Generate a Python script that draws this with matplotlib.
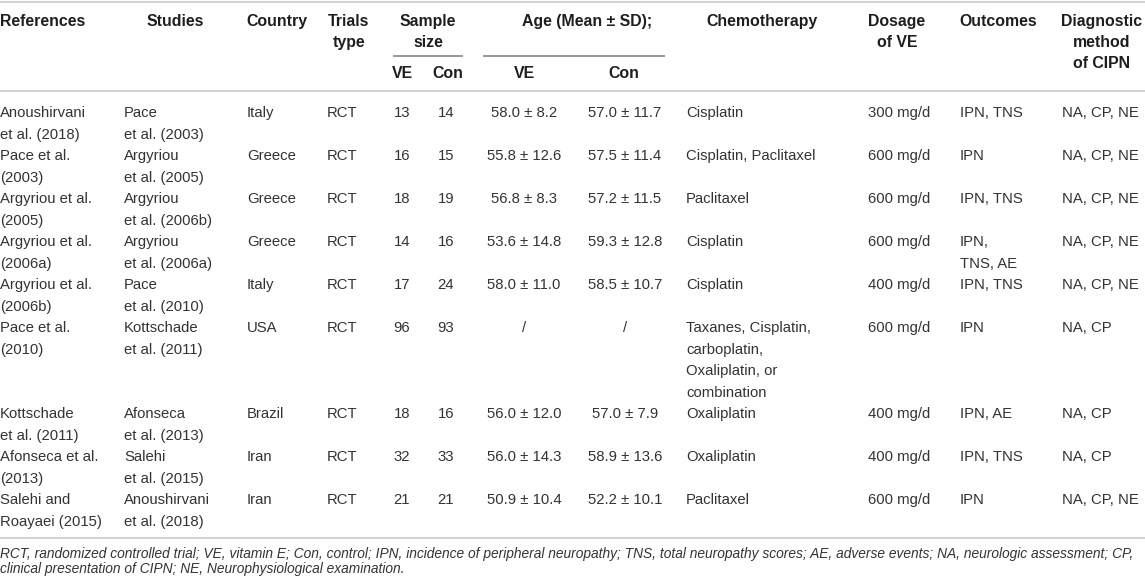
import matplotlib
matplotlib.use("Agg")
import matplotlib.pyplot as plt

plt.rcParams['font.family'] = ['Liberation Sans', 'DejaVu Sans']

# table contents, one list per column
references = ["Anoushirvani\net al. (2018)", "Pace et al.\n(2003)", "Argyriou et al.\n(2005)",
              "Argyriou et al.\n(2006a)", "Argyriou et al.\n(2006b)", "Pace et al.\n(2010)",
              "Kottschade\net al. (2011)", "Afonseca et al.\n(2013)", "Salehi and\nRoayaei (2015)"]
studies = ["Pace\net al. (2003)", "Argyriou\net al. (2005)", "Argyriou\net al. (2006b)",
           "Argyriou\net al. (2006a)", "Pace\net al. (2010)", "Kottschade\net al. (2011)",
           "Afonseca\net al. (2013)", "Salehi\net al. (2015)", "Anoushirvani\net al. (2018)"]
country = ["Italy", "Greece", "Greece", "Greece", "Italy", "USA", "Brazil", "Iran", "Iran"]
trials = ["RCT"] * 9
n_ve = ["13", "16", "18", "14", "17", "96", "18", "32", "21"]
n_con = ["14", "15", "19", "16", "24", "93", "16", "33", "21"]
age_ve = ["58.0 ± 8.2", "55.8 ± 12.6", "56.8 ± 8.3", "53.6 ± 14.8", "58.0 ± 11.0", "/",
          "56.0 ± 12.0", "56.0 ± 14.3", "50.9 ± 10.4"]
age_con = ["57.0 ± 11.7", "57.5 ± 11.4", "57.2 ± 11.5", "59.3 ± 12.8", "58.5 ± 10.7", "/",
           "57.0 ± 7.9", "58.9 ± 13.6", "52.2 ± 10.1"]
chemo = ["Cisplatin", "Cisplatin, Paclitaxel", "Paclitaxel", "Cisplatin", "Cisplatin",
         "Taxanes, Cisplatin,\ncarboplatin,\nOxaliplatin, or\ncombination",
         "Oxaliplatin", "Oxaliplatin", "Paclitaxel"]
dosage = ["300 mg/d", "600 mg/d", "600 mg/d", "600 mg/d", "400 mg/d", "600 mg/d",
          "400 mg/d", "400 mg/d", "600 mg/d"]
outcomes = ["IPN, TNS", "IPN", "IPN, TNS", "IPN,\nTNS, AE", "IPN, TNS", "IPN",
            "IPN, AE", "IPN, TNS", "IPN"]
diagnostic = ["NA, CP, NE", "NA, CP, NE", "NA, CP, NE", "NA, CP, NE", "NA, CP, NE",
              "NA, CP", "NA, CP", "NA, CP", "NA, CP, NE"]

footnote = ["RCT, randomized controlled trial; VE, vitamin E; Con, control; IPN, incidence of peripheral "
            "neuropathy; TNS, total neuropathy scores; AE, adverse events; NA, neurologic assessment; CP,",
            "clinical presentation of CIPN; NE, Neurophysiological examination."]

columns = [references, studies, country, trials, n_ve, n_con, age_ve, age_con,
           chemo, dosage, outcomes, diagnostic]
# (x, ha) of each body column, pixels
col_pos = [(0, 'left'), (124, 'left'), (247, 'left'), (327, 'left'), (402, 'center'),
           (446, 'center'), (524, 'center'), (625, 'center'), (686, 'left'),
           (930, 'right'), (960, 'left'), (1062, 'left')]

fig = plt.figure(figsize=(11.45, 5.83), dpi=100)
ax = fig.add_axes([0, 0, 1, 1])
ax.set_xlim(0, 1145)
ax.set_ylim(583, 0)
ax.axis('off')

body_c = '#333333'
head_c = '#1e1e1e'
rule_c = '#d2d2d2'
fs_body = 10.7
fs_head = 11.4
pitch = 21.5
off = 5.3  # line centre -> baseline

# header
def head(x, lines, ha='center', y0=21):
    for i, s in enumerate(lines):
        ax.text(x, y0 + i * 21 + off, s, ha=ha, va='baseline', fontsize=fs_head,
                fontweight='bold', color=head_c)

head(0, ["References"], ha='left')
head(175, ["Studies"])
head(277, ["Country"])
head(349, ["Trials", "type"])
head(428, ["Sample", "size"])
head(402, ["VE"], y0=73)
head(448, ["Con"], y0=73)
head(587, ["Age (Mean ± SD);"])
head(524, ["VE"], y0=73)
head(624, ["Con"], y0=73)
head(762, ["Chemotherapy"])
head(897, ["Dosage", "of VE"])
head(998, ["Outcomes"])
head(1102, ["Diagnostic", "method", "of CIPN"])

# rules
ax.plot([0, 1145], [1.5, 1.5], color=rule_c, lw=1.4, solid_capstyle='butt')
ax.plot([0, 1145], [91, 91], color=rule_c, lw=1.4, solid_capstyle='butt')
ax.plot([393, 463], [56, 56], color='#7a7a7a', lw=1.1, solid_capstyle='butt')
ax.plot([483, 665], [56, 56], color='#7a7a7a', lw=1.1, solid_capstyle='butt')

# body
y = 112
for r in range(len(references)):
    nlines = max(max(len(col[r].split('\n')) for col in columns), 2)
    for col, (x, ha) in zip(columns, col_pos):
        for i, s in enumerate(col[r].split('\n')):
            ax.text(x, y + i * pitch + off, s, ha=ha, va='baseline', fontsize=fs_body,
                    color=body_c)
    y += nlines * pitch

ax.plot([0, 1145], [538, 538], color=rule_c, lw=1.4, solid_capstyle='butt')

for i, s in enumerate(footnote):
    ax.text(0, 558 + i * 15.5, s, ha='left', va='baseline', fontsize=9.9,
            style='italic', color=body_c)

fig.savefig('out.png', dpi=100)
